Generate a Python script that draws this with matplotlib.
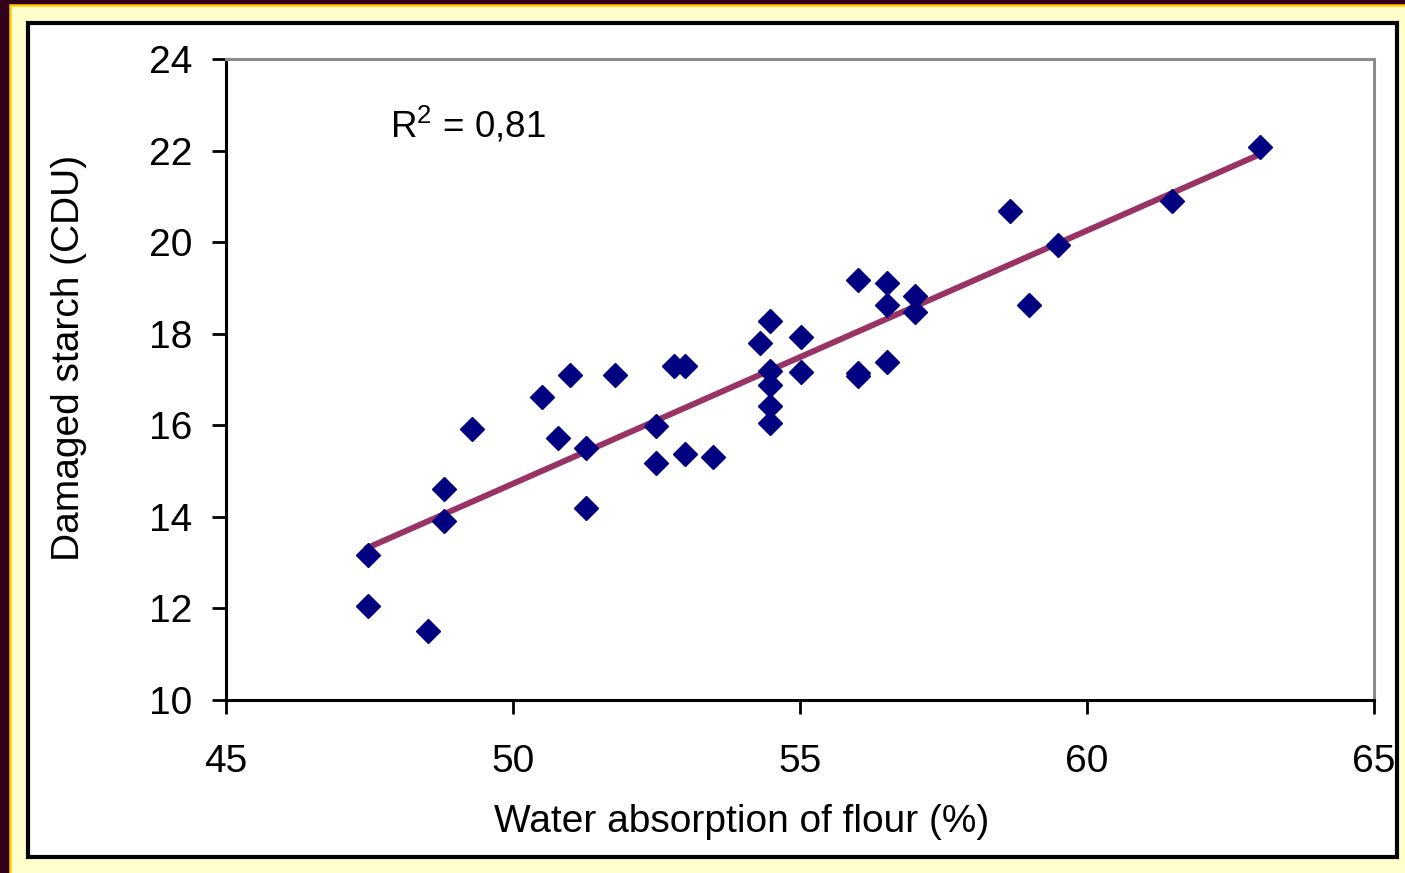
import numpy as np
import matplotlib.pyplot as plt
from matplotlib.patches import Rectangle

plt.rcParams['font.family'] = ['Liberation Sans', 'DejaVu Sans']
plt.rcParams['mathtext.fontset'] = 'custom'
plt.rcParams['mathtext.rm'] = 'Liberation Sans'

# Water absorption of flour (%) vs damaged starch (CDU)
water_abs = [47.47, 47.47, 48.52, 48.80, 48.80, 49.29, 50.51, 50.78, 50.99, 51.27,
             51.27, 51.78, 52.49, 52.49, 52.80, 53.00, 53.00, 53.48, 54.30, 54.48,
             54.48, 54.48, 54.48, 54.48, 55.02, 55.02, 56.01, 56.01, 56.01, 56.52,
             56.52, 56.52, 57.00, 57.00, 58.66, 58.99, 59.49, 61.48, 63.01]
damaged_starch = [13.17, 12.05, 11.51, 14.61, 13.91, 15.92, 16.62, 15.72, 17.10, 15.50,
                  14.19, 17.10, 15.98, 15.17, 17.29, 17.29, 15.37, 15.31, 17.79, 18.28,
                  17.18, 16.88, 16.42, 16.05, 17.93, 17.16, 19.17, 17.15, 17.08, 19.10,
                  18.62, 17.38, 18.82, 18.47, 20.68, 18.62, 19.93, 20.90, 22.07]
x_ticks = [45, 50, 55, 60, 65]
y_ticks = [10, 12, 14, 16, 18, 20, 22, 24]

fig = plt.figure(figsize=(14.05, 8.73), dpi=100)
fig.patch.set_facecolor('#33001a')
W, H = 1405, 873

# slide-like frame: light yellow panel with gold edge, white box with black border
fig.patches.append(Rectangle((10 / W, -0.01), 1.0, (873 - 5) / H + 0.01, transform=fig.transFigure,
                             facecolor='#ffffcc', edgecolor='#ffcc00', linewidth=1.8, zorder=-2))
fig.patches.append(Rectangle((28 / W, 1 - 857 / H), (1397 - 28) / W, (857 - 23) / H,
                             transform=fig.transFigure, facecolor='white', edgecolor='black',
                             linewidth=3, zorder=-1))

ax = fig.add_axes([226 / W, 1 - 700 / H, (1374 - 226) / W, (700 - 59) / H])
ax.set_zorder(2)
ax.patch.set_alpha(0)

x = np.array(water_abs)
y = np.array(damaged_starch)
slope, intercept = np.polyfit(x, y, 1)
xl = np.array([x.min(), x.max()])
ax.plot(xl, slope * xl + intercept, color='#993366', linewidth=4.3, zorder=2)
ax.plot(x, y, linestyle='none', marker='D', markersize=12, color='#000080', zorder=3)

ax.text(47.86, 22.55, r'R$^{\mathrm{2}}$ = 0,81', fontsize=26.5, va='center', ha='left')

ax.set_xlim(45, 65)
ax.set_ylim(10, 24)
ax.set_xticks(x_ticks)
ax.set_yticks(y_ticks)
ax.tick_params(axis='both', direction='out', length=10, width=2, labelsize=28, color='black')
ax.tick_params(axis='x', pad=22)
ax.tick_params(axis='y', pad=14)

for side in ['left', 'bottom']:
    ax.spines[side].set_color('black')
    ax.spines[side].set_linewidth(2.2)
for side in ['top', 'right']:
    ax.spines[side].set_color('#8c8c8c')
    ax.spines[side].set_linewidth(2.2)

ax.set_xlabel('Water absorption of flour (%)', fontsize=28)
ax.set_ylabel('Damaged starch (CDU)', fontsize=28)
ax.xaxis.set_label_coords(0.4495, -0.162)
ax.yaxis.set_label_coords(-0.121, 0.5335)

fig.savefig('out.png', dpi=100, facecolor=fig.get_facecolor())
